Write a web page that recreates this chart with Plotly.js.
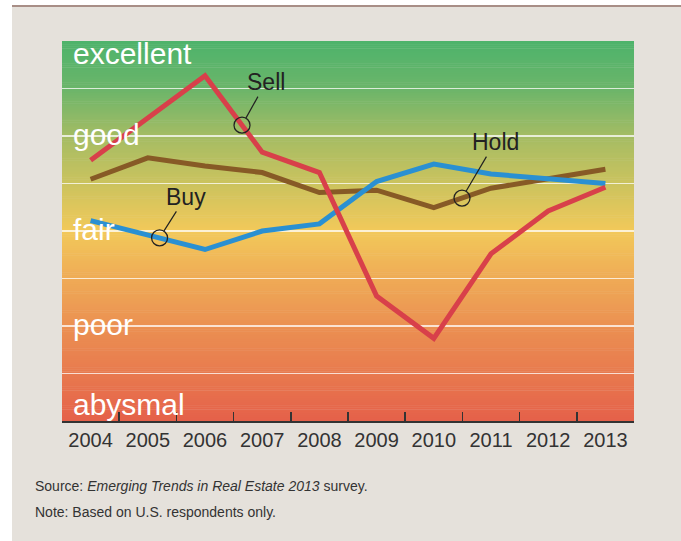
<!DOCTYPE html>
<html><head><meta charset="utf-8">
<script src="https://cdn.plot.ly/plotly-3.0.1.min.js"></script>
<style>
html,body{margin:0;padding:0;background:#fff;width:681px;height:541px;overflow:hidden}
#rule{position:absolute;left:12px;top:5px;width:669px;height:2px;background:#A88E86}
#chart{position:absolute;left:12px;top:7px;width:669px;height:534px}
</style></head><body>
<div id="rule"></div><div id="chart"></div>
<script>
// ---- data ----
const years = ['2004','2005','2006','2007','2008','2009','2010','2011','2012','2013'];
const sell  = [6.49, 7.38, 8.27, 6.66, 6.23, 3.63, 2.74, 4.52, 5.42, 5.92];
const hold  = [6.09, 6.54, 6.37, 6.23, 5.81, 5.86, 5.49, 5.90, 6.10, 6.30];
const buy   = [5.22, 4.92, 4.61, 5.00, 5.15, 6.04, 6.41, 6.20, 6.09, 6.00];
const ratingLabels = ['abysmal','poor','fair','good','excellent'];
const ratingValues = [1, 3, 5, 7, 9];
const seriesNames = ['Sell','Hold','Buy'];
// where along each series (fractional year index) its callout circle sits
const calloutAt = {Sell: 2.647, Hold: 6.493, Buy: 1.206};

// ---- styling ----
const colors = {Sell:'#D8404A', Hold:'#875A26', Buy:'#2A90D2'};
const seriesData = {Sell: sell, Hold: hold, Buy: buy};
const textOffsets = {Sell:[24,-43], Hold:[33,-56], Buy:[26,-41]};
const sans = '"Liberation Sans", Arial, Helvetica, sans-serif';

// background gradient (value -> colour)
const gradStops = [
  [1,'#E5604A'],[2,'#E87A4E'],[3,'#EB9052'],[4,'#EFAB56'],[5,'#F2C95A'],
  [6,'#CBC35E'],[7,'#A4BC64'],[8,'#6BB56A'],[9,'#4DB36B']
];
function hex(c){return [parseInt(c.slice(1,3),16),parseInt(c.slice(3,5),16),parseInt(c.slice(5,7),16)];}
function colAt(v){
  for(let i=0;i<gradStops.length-1;i++){
    const [a,ca]=gradStops[i],[b,cb]=gradStops[i+1];
    if(v>=a&&v<=b){const t=(v-a)/(b-a);const A=hex(ca),B=hex(cb);
      return 'rgb('+A.map((x,k)=>Math.round(x+(B[k]-x)*t)).join(',')+')';}
  }
  return gradStops[gradStops.length-1][1];
}
const shapes=[];
const step=0.04;
for(let v=1;v<9-1e-9;v+=step){
  shapes.push({type:'rect',xref:'paper',yref:'y',x0:0,x1:1,y0:v,y1:Math.min(9,v+step+0.01),
    fillcolor:colAt(v+step/2),line:{width:0},layer:'below'});
}

const traces = ['Hold','Buy','Sell'].map(n=>({
  type:'scatter',mode:'lines',x:years,y:seriesData[n],name:n,
  line:{color:colors[n],width:5},hoverinfo:'skip'
}));

const annotations=[];
// rating labels
ratingLabels.forEach((lab,i)=>{
  const v=ratingValues[i];
  let ya='middle', ys=2;
  if(v===9){ya='top';ys=6;}
  if(v===1){ya='bottom';ys=-2;}
  annotations.push({xref:'paper',yref:'y',x:0.016,y:v,xanchor:'left',yanchor:ya,yshift:ys,
    text:lab,showarrow:false,font:{family:sans,size:30,color:'#ffffff'}});
});
// series callouts
seriesNames.forEach(n=>{
  const t=calloutAt[n], d=seriesData[n];
  const i=Math.floor(t), f=t-i;
  const yv=d[i]+(d[i+1]-d[i])*f;
  annotations.push({x:t,y:yv,xref:'x',yref:'y',text:n,showarrow:true,arrowhead:0,
    arrowwidth:1.2,arrowcolor:'#222',standoff:8,ax:textOffsets[n][0],ay:textOffsets[n][1],
    font:{family:sans,size:23,color:'#222'}});
  shapes.push({type:'circle',xref:'x',yref:'y',xsizemode:'pixel',ysizemode:'pixel',
    xanchor:t,yanchor:yv,x0:-8,x1:8,y0:-8,y1:8,line:{color:'#222',width:1.3},layer:'above'});
});
// source notes
annotations.push({xref:'paper',yref:'paper',x:-0.05,y:-0.17,xanchor:'left',yanchor:'middle',showarrow:false,
  text:'Source: <i>Emerging Trends in Real Estate 2013</i> survey.',font:{family:sans,size:14,color:'#333'}});
annotations.push({xref:'paper',yref:'paper',x:-0.05,y:-0.24,xanchor:'left',yanchor:'middle',showarrow:false,
  text:'Note: Based on U.S. respondents only.',font:{family:sans,size:14,color:'#333'}});

const layout={
  width:669,height:534,
  margin:{l:50,r:47,t:34,b:120},
  paper_bgcolor:'#E5E1DB',plot_bgcolor:'#E5E1DB',
  showlegend:false,
  xaxis:{type:'category',range:[-0.5,9.5],tickson:'boundaries',ticks:'inside',ticklen:9,
    tickwidth:1.5,tickcolor:'#333',showline:true,linecolor:'#333',linewidth:2,showgrid:false,
    zeroline:false,tickangle:0,tickfont:{family:sans,size:20,color:'#333'},ticklabelstandoff:0,fixedrange:true},
  yaxis:{range:[1,9],tickvals:[2,3,4,5,6,7,8],showticklabels:false,ticks:'',showgrid:true,
    gridcolor:'rgba(255,255,255,0.75)',gridwidth:1.5,zeroline:false,showline:false,fixedrange:true},
  shapes:shapes,annotations:annotations
};
Plotly.newPlot('chart',traces,layout,{displayModeBar:false,staticPlot:true});
</script></body></html>
